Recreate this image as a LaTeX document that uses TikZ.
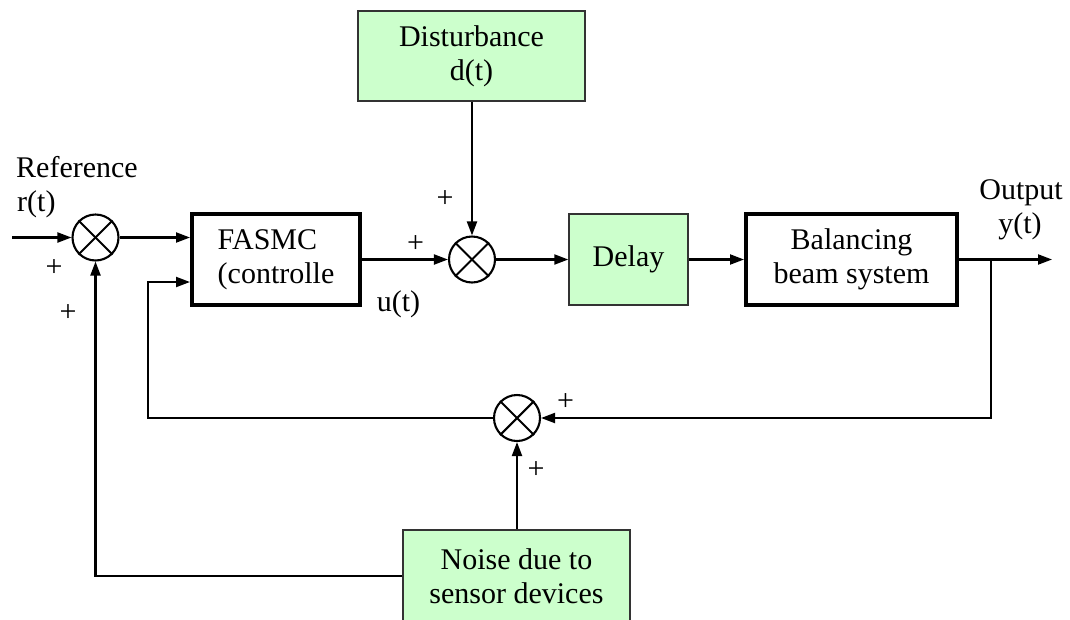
\documentclass[tikz,border=0pt]{standalone}
\usepackage{fontspec}
\setmainfont{Liberation Serif}
\usetikzlibrary{arrows.meta}
\definecolor{boxgreen}{RGB}{204,255,204}
\begin{document}
\begin{tikzpicture}[x=1pt,y=-1pt,
  font=\fontsize{30}{34}\selectfont,
  wire/.style={line width=2.1pt},
  arr/.style={wire,-{Triangle[length=14pt,width=10pt]}},
  plainbox/.style={draw,line width=4pt,fill=white,inner sep=0pt},
  greenbox/.style={draw=black!80,line width=1.4pt,fill=boxgreen,align=center,inner sep=0pt},
  summer/.style={circle,draw,line width=2.1pt,minimum size=46pt,inner sep=0pt},
  sign/.style={inner sep=0pt}]
\path[use as bounding box, clip] (0,0) rectangle (1070,619);

% summing junctions
\node[summer] (s1) at (95.5,237.5) {};
\node[summer] (s2) at (472,259.5) {};
\node[summer] (s3) at (517,418) {};
\foreach \s in {s1,s2,s3} {
  \draw[wire] (\s.north east) -- (\s.south west);
  \draw[wire] (\s.north west) -- (\s.south east);
}

% blocks
\node[plainbox, align=left, minimum width=168pt, minimum height=91pt] (ctl) at (276,259.5) {FASMC\\(controlle};
\node[greenbox, minimum width=119pt, minimum height=91pt] (dly) at (628.5,259.5) {Delay};
\node[plainbox, align=center, minimum width=211pt, minimum height=91pt] (plant) at (851.5,259.5) {Balancing\\beam system};
\node[greenbox, minimum width=227pt, minimum height=90pt] (dist) at (471.5,56) {Disturbance\\d(t)};
\node[greenbox, minimum width=227pt, minimum height=92pt] (noise) at (516.5,576) {Noise due to\\sensor devices};

% free ends and bends
\coordinate (in) at (12,237.5);
\coordinate (out) at (1052,259.5);
\coordinate (br) at (991,259.5);
\coordinate (fb) at (148,282);

% signal flow
\draw[arr] (in) -- (s1.west);
\draw[arr] (s1.east) -- (s1.east -| ctl.west);
\draw[arr] (ctl.east) -- (s2.west);
\draw[arr] (dist.south -| s2) -- (s2.north);
\draw[arr] (s2.east) -- (dly.west);
\draw[arr] (dly.east) -- (plant.west);
\draw[arr] (plant.east) -- (out);
\draw[arr] (br) |- (s3.east);
\draw[arr] (s3.west) -| (fb) -- (fb -| ctl.west);
\draw[arr] (noise.north -| s3) -- (s3.south);
\draw[arr] (noise.west) -| (s1.south);

% labels
\node[anchor=base west, inner sep=0pt] (lref) at (16,177) {Reference};
\node[anchor=base west, inner sep=0pt] (lr) at (17,211) {r(t)};
\node[anchor=base, inner sep=0pt] (lout) at (1021,199) {Output};
\node[anchor=base, inner sep=0pt] (ly) at (1020,233) {y(t)};
\node[anchor=base, inner sep=0pt] (lu) at (398.5,311) {u(t)};

% signs
\node[sign] at (54,268) {+};
\node[sign] at (68,313) {+};
\node[sign] at (445,199) {+};
\node[sign] at (415.5,244) {+};
\node[sign] at (565.5,402.5) {+};
\node[sign] at (536,470) {+};
\end{tikzpicture}
\end{document}
